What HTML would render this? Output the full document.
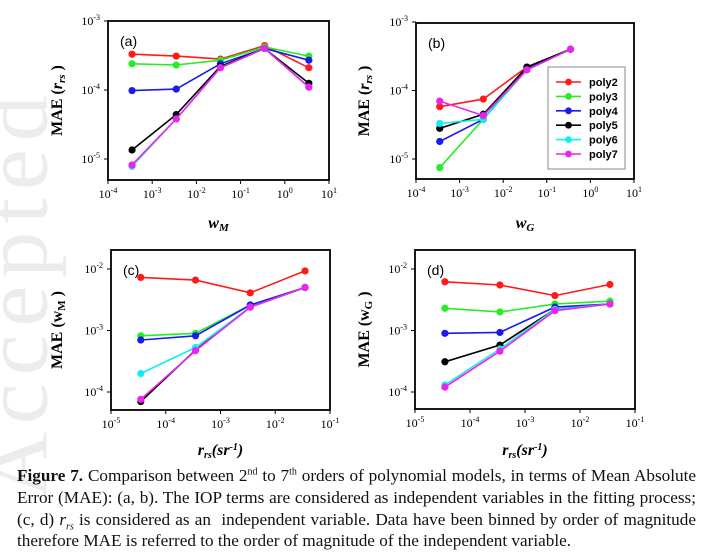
<!DOCTYPE html>
<html><head><meta charset="utf-8">
<style>
body{margin:0;background:#fff;width:704px;height:557px;overflow:hidden;position:relative;font-family:"Liberation Serif",serif;}
#wm{position:absolute;left:-190px;top:240px;transform:rotate(-90deg);font-size:92px;color:#ececec;letter-spacing:8px;white-space:nowrap;font-family:"Liberation Serif",serif;}
svg{position:absolute;left:0;top:0;}
#cap{position:absolute;left:17px;top:465px;width:679px;font-size:17.2px;line-height:21.8px;color:#111;text-align:justify;}
#cap sup,#cap sub{line-height:0;font-size:10px;}
</style></head><body>
<div id="wm">Accepted</div>
<svg id="chart" width="704" height="465"></svg>
<div id="cap"><b>Figure 7.</b> Comparison between 2<sup>nd</sup> to 7<sup>th</sup> orders of polynomial models, in terms of Mean Absolute Error (MAE): (a, b). The IOP terms are considered as independent variables in the fitting process; (c, d) <i>r<sub>rs</sub></i> is considered as an&nbsp; independent variable. Data have been binned by order of magnitude therefore MAE is referred to the order of magnitude of the independent variable.</div>
<script>
const seriesNames=["poly2","poly3","poly4","poly5","poly6","poly7"];
const colors=["#ff1a1a","#22ee22","#1a1aee","#000000","#11eeee","#ee22ee"];
const xA=[3.5e-4,3.5e-3,3.5e-2,3.5e-1,3.5];
const aRed=[3.3e-4,3.1e-4,2.8e-4,4.4e-4,2.1e-4];
const aGreen=[2.4e-4,2.3e-4,2.7e-4,4.2e-4,3.1e-4];
const aBlue=[9.8e-5,1.03e-4,2.4e-4,4.0e-4,2.7e-4];
const aBlack=[1.35e-5,4.4e-5,2.2e-4,4.0e-4,1.25e-4];
const aCyan=[7.8e-6,3.8e-5,2.1e-4,4.0e-4,1.1e-4];
const aMag=[8.2e-6,3.8e-5,2.1e-4,4.0e-4,1.1e-4];
const xB=[3.5e-4,3.5e-3,3.5e-2,3.5e-1];
const bRed=[5.8e-5,7.5e-5,2.2e-4,4.0e-4];
const bGreen=[7.5e-6,3.8e-5,2.1e-4,4.0e-4];
const bBlue=[1.8e-5,3.8e-5,2.1e-4,4.0e-4];
const bBlack=[2.8e-5,4.5e-5,2.2e-4,4.0e-4];
const bCyan=[3.3e-5,3.8e-5,2.0e-4,4.0e-4];
const bMag=[7.0e-5,4.3e-5,2.0e-4,4.0e-4];
const xC=[3.5e-5,3.5e-4,3.5e-3,3.5e-2];
const cRed=[7.3e-3,6.6e-3,4.1e-3,9.3e-3];
const cGreen=[8.2e-4,9.0e-4,2.6e-3,5.0e-3];
const cBlue=[7.0e-4,8.2e-4,2.6e-3,5.0e-3];
const cBlack=[7.0e-5,4.8e-4,2.4e-3,5.0e-3];
const cCyan=[2.0e-4,5.3e-4,2.4e-3,5.0e-3];
const cMag=[7.6e-5,4.7e-4,2.4e-3,5.0e-3];
const dRed=[6.2e-3,5.5e-3,3.7e-3,5.6e-3];
const dGreen=[2.3e-3,2.0e-3,2.7e-3,3.0e-3];
const dBlue=[9.0e-4,9.3e-4,2.4e-3,2.7e-3];
const dBlack=[3.1e-4,5.8e-4,2.2e-3,2.7e-3];
const dCyan=[1.3e-4,5.0e-4,2.2e-3,2.7e-3];
const dMag=[1.2e-4,4.6e-4,2.1e-3,2.7e-3];
const xTicksAB=[-4,-3,-2,-1,0,1];
const yTicksAB=[-3,-4,-5];
const xTicksCD=[-5,-4,-3,-2,-1];
const yTicksCD=[-2,-3,-4];

const NS="http://www.w3.org/2000/svg";
const svg=document.getElementById('chart');
function mk(tag,attrs,parent){const e=document.createElementNS(NS,tag);for(const k in attrs)e.setAttribute(k,attrs[k]);(parent||svg).appendChild(e);return e;}

function panel(cfg){
  const g=mk('g',{});
  
  
  const sx=v=>cfg.L+(Math.log10(v)-cfg.x0)/(cfg.x1-cfg.x0)*(cfg.R-cfg.L);
  const sy=v=>cfg.yTop+(cfg.yTopLog-Math.log10(v))*cfg.dec;
  cfg.series.forEach((arr,i)=>{
    const pts=arr.map((v,j)=>sx(cfg.xs[j]).toFixed(1)+','+sy(v).toFixed(1)).join(' ');
    const pl=mk('polyline',{points:pts,fill:'none',stroke:colors[i],'stroke-width':1.6},g);
    
    
    arr.forEach((v,j)=>{
      const c=mk('circle',{cx:sx(cfg.xs[j]),cy:sy(v),r:3.6,fill:colors[i]},g);
      
      
    });
  });
  const fr=mk('rect',{x:cfg.L,y:cfg.T,width:cfg.R-cfg.L,height:cfg.B-cfg.T,fill:'none',stroke:'#000','stroke-width':1.8},g);
  
  
  cfg.xt.forEach(p=>{
    const x=sx(Math.pow(10,p));
    mk('line',{x1:x,x2:x,y1:cfg.B,y2:cfg.B+4,stroke:'#000'},g);
    const t=mk('text',{x:x,y:cfg.B+18,'text-anchor':'middle','font-size':12,'font-family':'Liberation Serif, serif'},g);
    
    
    t.innerHTML='10<tspan dy="-5" font-size="8">'+p+'</tspan>';
  });
  cfg.yt.forEach(p=>{
    const y=sy(Math.pow(10,p));
    mk('line',{x1:cfg.L-4,x2:cfg.L,y1:y,y2:y,stroke:'#000'},g);
    const t=mk('text',{x:cfg.L-8,y:y+4,'text-anchor':'end','font-size':12,'font-family':'Liberation Serif, serif'},g);
    
    
    t.innerHTML='10<tspan dy="-5" font-size="8">'+p+'</tspan>';
  });
  const lab=mk('text',{x:cfg.L+12,y:cfg.T+25,'font-size':14,'font-family':'Liberation Sans, sans-serif'},g);
  
  
  lab.textContent='('+cfg.id+')';
  const yt=mk('text',{x:0,y:0,transform:'translate('+cfg.ytx+','+((cfg.T+cfg.B)/2)+') rotate(-90)','text-anchor':'middle','font-size':16,'font-weight':'bold','font-family':'Liberation Serif, serif'},g);
  
  
  yt.innerHTML=cfg.ytitle;
  const xt=mk('text',{x:(cfg.L+cfg.R)/2,y:cfg.xty,'text-anchor':'middle','font-size':16,'font-weight':'bold','font-style':'italic','font-family':'Liberation Serif, serif'},g);
  
  
  xt.innerHTML=cfg.xtitle;
}
const rrsY='MAE (<tspan font-style="italic">r<tspan dy="3" font-size="11">rs</tspan></tspan><tspan dy="-3"> )</tspan>';
const rrsX='r<tspan dy="3" font-size="10">rs</tspan><tspan dy="-3">(sr</tspan><tspan dy="-5" font-size="10">-1</tspan><tspan dy="5">)</tspan>';
panel({id:'a',L:108,R:329,T:21,B:180,x0:-4,x1:1,yTop:21,yTopLog:-3,dec:69,xs:xA,series:[aRed,aGreen,aBlue,aBlack,aCyan,aMag],xt:xTicksAB,yt:yTicksAB,ytx:62,ytitle:rrsY,xty:228,xtitle:'w<tspan dy="3" font-size="11">M</tspan>'});
panel({id:'b',L:416,R:634,T:23,B:179,x0:-4,x1:1,yTop:22,yTopLog:-3,dec:68.5,xs:xB,series:[bRed,bGreen,bBlue,bBlack,bCyan,bMag],xt:xTicksAB,yt:yTicksAB,ytx:369,ytitle:rrsY,xty:228,xtitle:'w<tspan dy="3" font-size="11">G</tspan>'});
panel({id:'c',L:111,R:330,T:250,B:410,x0:-5,x1:-1,yTop:269,yTopLog:-2,dec:61.5,xs:xC,series:[cRed,cGreen,cBlue,cBlack,cCyan,cMag],xt:xTicksCD,yt:yTicksCD,ytx:62,ytitle:'MAE (w<tspan dy="3" font-size="11">M</tspan><tspan dy="-3"> )</tspan>',xty:455,xtitle:rrsX});
panel({id:'d',L:415,R:635,T:250,B:409,x0:-5,x1:-1,yTop:269,yTopLog:-2,dec:61.5,xs:xC,series:[dRed,dGreen,dBlue,dBlack,dCyan,dMag],xt:xTicksCD,yt:yTicksCD,ytx:369,ytitle:'MAE (w<tspan dy="3" font-size="11">G</tspan><tspan dy="-3"> )</tspan>',xty:455,xtitle:rrsX});
const lg=mk('g',{});


mk('rect',{x:548,y:67,width:77,height:102,fill:'#fff',stroke:'#888','stroke-width':1},lg);
seriesNames.forEach((n,i)=>{
  const y=82+i*14.4;
  const e=mk('g',{},lg);
  
  
  mk('line',{x1:556,x2:581,y1:y,y2:y,stroke:colors[i],'stroke-width':1.6},e);
  mk('circle',{cx:568.5,cy:y,r:3.4,fill:colors[i]},e);
  const t=mk('text',{x:589,y:y+4,'font-size':11,'font-weight':'bold','font-family':'Liberation Sans, sans-serif'},e);
  t.textContent=n;
});
</script>
</body></html>
